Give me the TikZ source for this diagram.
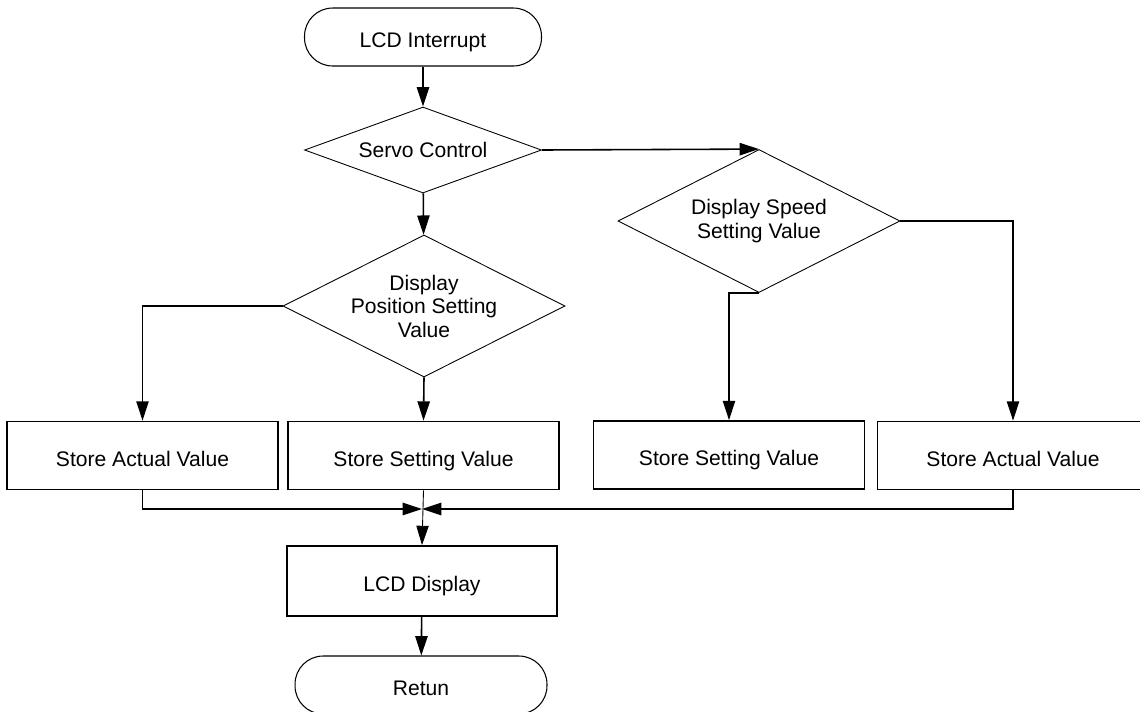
\documentclass[tikz,border=0pt]{standalone}
\usepackage{fontspec}
\setmainfont{Liberation Sans}
\usetikzlibrary{shapes.geometric,arrows.meta}

\begin{document}
\begin{tikzpicture}[x=0.02cm,y=-0.02cm,
  font=\fontsize{12}{13.4}\selectfont,
  terminal/.style={draw,line width=0.6pt,rounded corners=16pt,minimum height=1.16cm,inner sep=0pt,text height=12pt,text depth=0pt},
  decision/.style={draw,diamond,line width=0.5pt,align=center,inner sep=-2pt},
  process/.style={draw,rectangle,line width=1pt,minimum width=5.42cm,minimum height=1.36cm,inner sep=0pt,text height=12pt,text depth=0pt},
  flow/.style={line width=0.9pt,-{Triangle[length=11pt,width=7pt]}},
  link/.style={line width=0.9pt}]
\clip (0,0) rectangle (1140,711);

\node[terminal,minimum width=4.74cm] (start) at (423,37) {LCD Interrupt};
\node[decision,shape aspect=2.75,minimum width=4.74cm,minimum height=1.72cm] (servo) at (423,150) {Servo Control};
\node[decision,shape aspect=2,minimum width=5.64cm,minimum height=2.84cm] (dpos) at (424,306) {Display\\Position Setting\\Value};
\node[decision,shape aspect=2,minimum width=5.64cm,minimum height=2.86cm] (dspd) at (759,221) {Display Speed\\Setting Value};

\node[process] (sav1) at (142.5,455.5) {Store Actual Value};
\node[process] (ssv1) at (423.5,455.5) {Store Setting Value};
\node[process] (ssv2) at (729,455) {Store Setting Value};
\node[process] (sav2) at (1013,455.5) {Store Actual Value};

\node[process,minimum width=5.4cm,minimum height=1.4cm] (lcd) at (422,581) {LCD Display};
\node[terminal,minimum width=5.04cm] (ret) at (421,685) {Retun};

\coordinate (join) at (422,509);

\draw[flow] (start) -- (servo);
\draw[flow] (servo) -- (dpos);
\draw[flow] (servo.east) -- (dspd.north);
\draw[flow] (dpos.west) -| (sav1.north);
\draw[flow] (dpos.south) -- (ssv1.north);
\draw[flow] (dspd.south) -| (ssv2.north);
\draw[flow] (dspd.east) -| (sav2.north);

\draw[flow] (sav1.south) |- (join);
\draw[flow] (sav2.south) |- (join);
\draw[line width=0.5pt,-{Triangle[length=11pt,width=7pt]}] (ssv1.south) -- (lcd.north);
\draw[flow] (lcd) -- (ret);
\end{tikzpicture}
\end{document}
